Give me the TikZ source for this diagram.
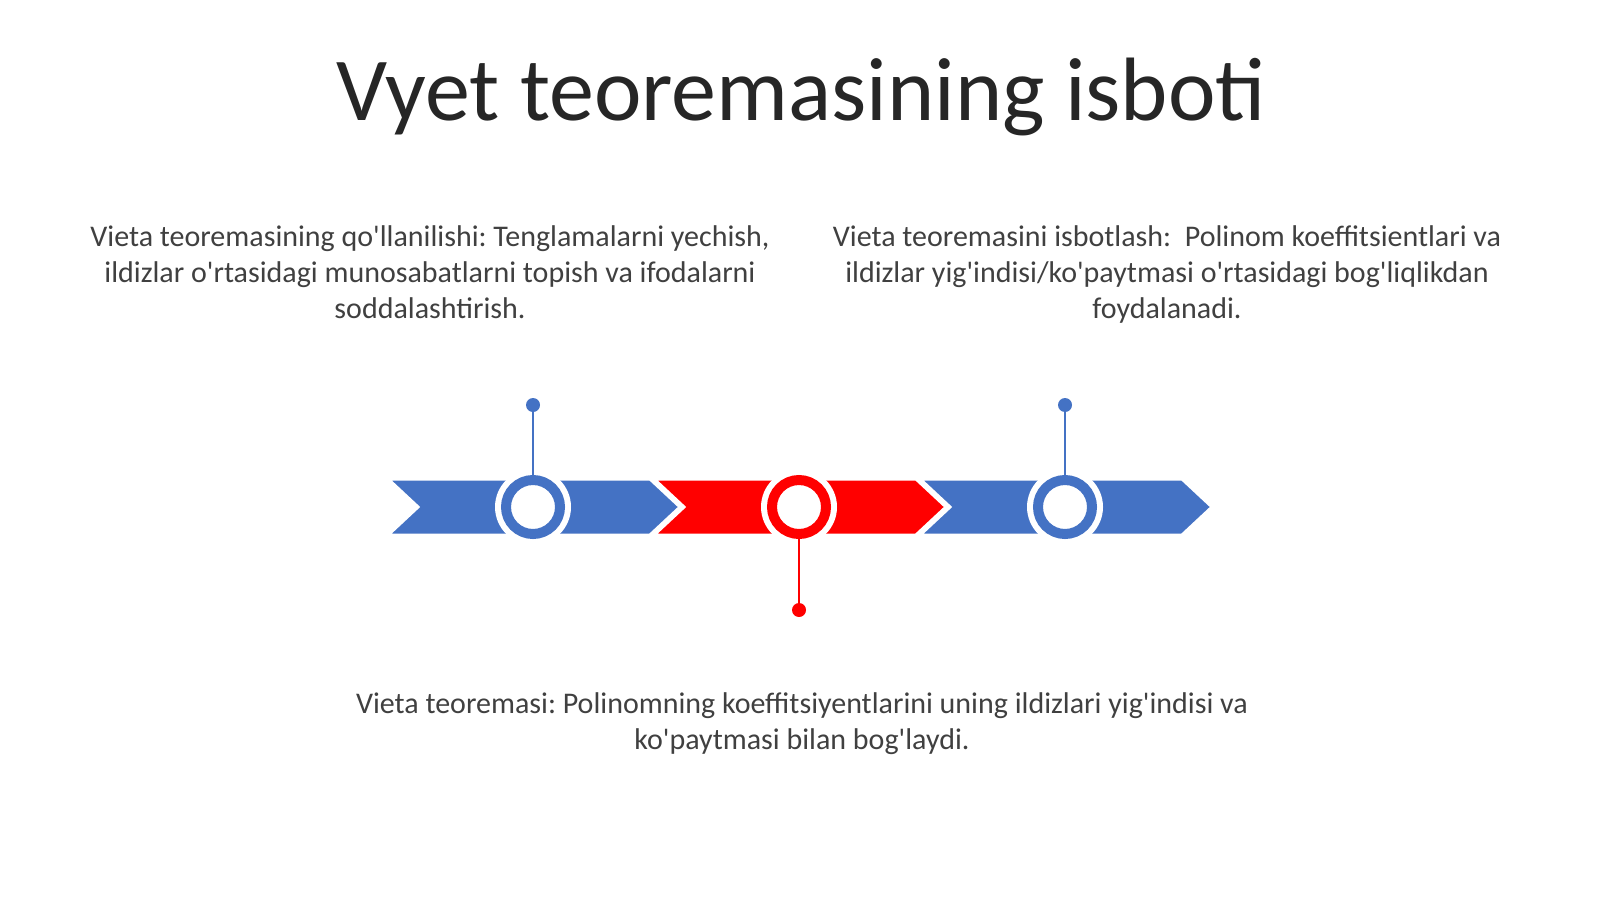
\documentclass[tikz,border=0pt]{standalone}
\usepackage{fontspec}
\setmainfont{Carlito}[Ligatures=TeXOff]
\usepackage{xcolor}
\usepackage{tikz}
\frenchspacing

\definecolor{segblue}{HTML}{4472C4}
\definecolor{segred}{HTML}{FF0000}
\definecolor{txtgray}{HTML}{404040}
\definecolor{titlegray}{HTML}{262626}

\tikzset{
  bodytext/.style={text=txtgray, font=\fontsize{15}{18}\selectfont, align=center, anchor=base, inner sep=0pt},
  hub/.style={circle, draw=#1, line width=5pt, fill=white, minimum size=27pt, inner sep=0pt, outer sep=0pt},
  pin/.style={circle, fill=#1, minimum size=7pt, inner sep=0pt, outer sep=0pt},
}

\begin{document}
\begin{tikzpicture}[x=0.5pt, y=-0.5pt]
    \useasboundingbox (0,0) rectangle (1600,899);

    % title
    \node[text=titlegray, font=\fontsize{45}{50}\selectfont, anchor=base, inner sep=0pt] (title) at (801,120) {Vyet teoremasining isboti};

    % texts (base = last line)
    \node[bodytext] (useText) at (430,318) {Vieta teoremasining qo'llanilishi: Tenglamalarni yechish,\\ ildizlar o'rtasidagi munosabatlarni topish va ifodalarni\\ soddalashtirish.};
    \node[bodytext] (proofText) at (1167,318) {Vieta teoremasini isbotlash:\ \ Polinom koeffitsientlari va\\ ildizlar yig'indisi/ko'paytmasi o'rtasidagi bog'liqlikdan\\ foydalanadi.};
    \node[bodytext] (thmText) at (802,749) {Vieta teoremasi: Polinomning koeffitsiyentlarini uning ildizlari yig'indisi va\\ ko'paytmasi bilan bog'laydi.};

    % chevrons
    \filldraw[segblue, draw=white, line width=1.5pt] (388,479) -- (650,479) -- (680,507) -- (650,535) -- (388,535) -- (418,507) -- cycle;
    \filldraw[segred, draw=white, line width=1.5pt] (654,479) -- (916,479) -- (946,507) -- (916,535) -- (654,535) -- (684,507) -- cycle;
    \filldraw[segblue, draw=white, line width=1.5pt] (920,479) -- (1182,479) -- (1212,507) -- (1182,535) -- (920,535) -- (950,507) -- cycle;

    % rings
    \fill[white] (533,507) circle (19pt);
    \fill[white] (799,507) circle (19pt);
    \fill[white] (1065,507) circle (19pt);
    \node[hub=segblue] (hubA) at (533,507) {};
    \node[hub=segred] (hubB) at (799,507) {};
    \node[hub=segblue] (hubC) at (1065,507) {};

    % pins
    \node[pin=segblue] (pinA) at (533,405) {};
    \node[pin=segred] (pinB) at (799,610) {};
    \node[pin=segblue] (pinC) at (1065,405) {};
    \draw[segblue, line width=1.4pt] (pinA) -- (hubA);
    \draw[segred, line width=1.4pt] (hubB) -- (pinB);
    \draw[segblue, line width=1.4pt] (pinC) -- (hubC);
\end{tikzpicture}
\end{document}
